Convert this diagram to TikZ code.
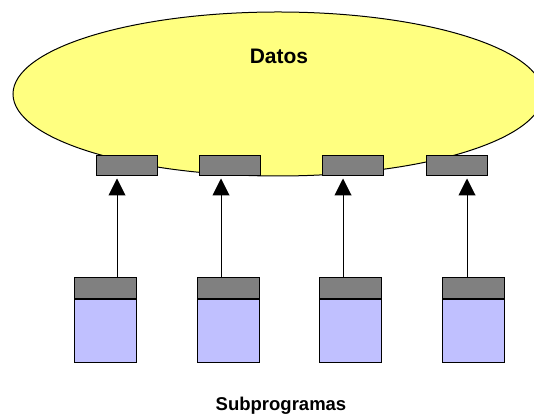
\documentclass[tikz,border=0pt]{standalone}
\usepackage{fontspec}
\setmainfont{Liberation Sans}
\usetikzlibrary{arrows.meta,shapes.geometric}
\definecolor{datayellow}{HTML}{FFFF80}
\definecolor{portgray}{HTML}{808080}
\definecolor{bodyblue}{HTML}{C0C0FF}
\begin{document}
\begin{tikzpicture}[x=1pt,y=1pt,
  port/.style={draw=black,fill=portgray,line width=1pt,inner sep=0pt,
    minimum width=61pt,minimum height=20pt},
  head/.style={draw=black,fill=portgray,line width=1pt,inner sep=0pt,
    minimum width=62pt,minimum height=21pt},
  body/.style={draw=black,fill=bodyblue,line width=1pt,inner sep=0pt,
    minimum width=62pt,minimum height=62pt},
  link/.style={line width=1pt,-{Triangle[length=17pt,width=17pt]}},
  lbl/.style={font=\bfseries,inner sep=0pt}]
\useasboundingbox (0,0) rectangle (534,417);
\clip (0,0) rectangle (534,417);
% shared data area
\node[draw=black,fill=datayellow,line width=1pt,ellipse,inner sep=0pt,
  minimum width=530pt,minimum height=164pt] (data) at (278,323) {};
\node[lbl,font=\bfseries\fontsize{21}{25}\selectfont] (datos) at (279,361) {Datos};
% access ports on the data area
\node[port] (p1) at (127,251) {};
\node[port] (p2) at (230,251) {};
\node[port] (p3) at (353,251) {};
\node[port] (p4) at (457,251) {};
% subprograms: header and body
\foreach \i/\x in {1/105,2/228.5,3/350,4/473.5}{
  \node[head] (h\i) at (\x,128.5) {};
  \node[body,anchor=north] (b\i) at (h\i.south) {};
}
% call links
\coordinate (a1) at (117,0);
\coordinate (a2) at (221,0);
\coordinate (a3) at (343,0);
\coordinate (a4) at (467,0);
\foreach \i in {1,...,4}{
  \draw[link] (h\i.north -| a\i) -- ([yshift=-2pt]p\i.south -| a\i);
}
\node[lbl,font=\bfseries\fontsize{18.5}{22}\selectfont,anchor=base] (sub) at (281,7) {Subprogramas};
\end{tikzpicture}
\end{document}
